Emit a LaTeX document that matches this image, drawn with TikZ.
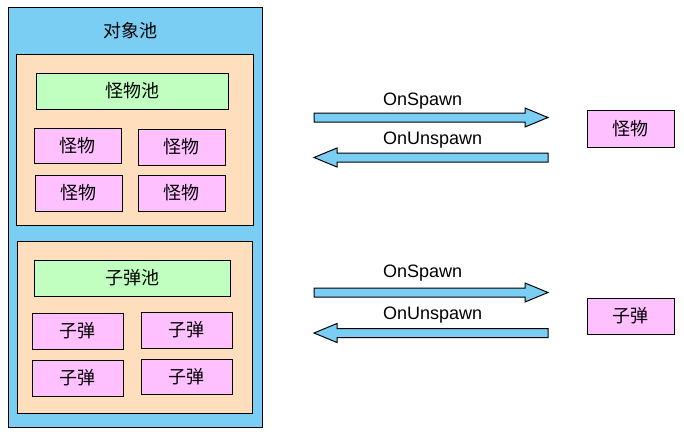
\documentclass[tikz,border=0pt]{standalone}
\usepackage{fontspec}
\setmainfont{Liberation Sans}
\newfontfamily\cjk{Noto Sans CJK SC}
\usepackage{tikz}
\definecolor{poolblue}{RGB}{122,206,244}
\definecolor{peach}{RGB}{255,222,190}
\definecolor{mint}{RGB}{192,255,192}
\definecolor{lilac}{RGB}{255,192,255}
% block arrow: #1 tail, #2 tip, #3 direction (1 right, -1 left)
\newcommand{\fatarrow}[3]{%
    \draw[flowarrow] (#1) ++(0,-4.5) -- ++({#3*211},0) -- ++(0,-5) -- (#2)
        -- ++({-#3*23},9.5) -- ++(0,-5) -- ++({-#3*211},0) -- cycle;}

\begin{document}
\begin{tikzpicture}[x=1pt,y=-1pt,
        boxbase/.style={draw=black,line width=1pt,inner sep=0pt,
                        font=\cjk\fontsize{18}{18}\selectfont},
        poolbox/.style={boxbase,fill=poolblue},
        groupbox/.style={boxbase,fill=peach},
        listbox/.style={boxbase,fill=mint,minimum height=36pt},
        itembox/.style={boxbase,fill=lilac,minimum width=87pt,minimum height=36pt},
        flowarrow/.style={draw=black,line width=1pt,fill=poolblue,line join=miter},
        flowlabel/.style={anchor=west,inner sep=0pt,font=\fontsize{18}{18}\selectfont}]
    \fill[white] (0,0) rectangle (684,436);
    \useasboundingbox (0,0) rectangle (684,436);

    % pools
    \node[poolbox,minimum width=254pt,minimum height=419pt] (pool) at (135,217.5) {};
    \node[boxbase,draw=none] (title) at (130,31) {对象池};

    \node[groupbox,minimum width=237pt,minimum height=171pt] (mgroup) at (134.5,139.5) {};
    \node[listbox,minimum width=192pt] (mlist) at (132,91) {怪物池};
    \node[itembox,minimum height=35pt] (m1) at (77.5,145.5) {怪物};
    \node[itembox] (m2) at (181.5,147) {怪物};
    \node[itembox] (m3) at (78.5,193) {怪物};
    \node[itembox] (m4) at (181.5,193) {怪物};

    \node[groupbox,minimum width=235pt,minimum height=172pt] (bgroup) at (134.5,327) {};
    \node[listbox,minimum width=196pt] (blist) at (132,278) {子弹池};
    \node[itembox,minimum width=91pt] (b1) at (77.5,331) {子弹};
    \node[itembox,minimum width=91pt] (b2) at (186.5,330) {子弹};
    \node[itembox,minimum width=91pt] (b3) at (77.5,378) {子弹};
    \node[itembox,minimum width=91pt,minimum height=35pt] (b4) at (186.5,376.5) {子弹};

    % spawned objects
    \node[itembox,minimum height=37pt] (monster) at (630.5,128.5) {怪物};
    \node[itembox] (bullet) at (630.5,316) {子弹};

    % spawn / unspawn
    \coordinate (mspawn-tail) at (314,117.5);
    \coordinate (mspawn-tip) at (548,117.5);
    \coordinate (munspawn-tail) at (548,157.5);
    \coordinate (munspawn-tip) at (314,157.5);
    \fatarrow{mspawn-tail}{mspawn-tip}{1}
    \fatarrow{munspawn-tail}{munspawn-tip}{-1}
    \node[flowlabel] (mspawnlabel) at (383,101) {OnSpawn};
    \node[flowlabel] (munspawnlabel) at (383,140) {OnUnspawn};

    \coordinate (bspawn-tail) at (314,292.5);
    \coordinate (bspawn-tip) at (548,292.5);
    \coordinate (bunspawn-tail) at (548,333);
    \coordinate (bunspawn-tip) at (314,333);
    \fatarrow{bspawn-tail}{bspawn-tip}{1}
    \fatarrow{bunspawn-tail}{bunspawn-tip}{-1}
    \node[flowlabel] (bspawnlabel) at (383,273) {OnSpawn};
    \node[flowlabel] (bunspawnlabel) at (383,315) {OnUnspawn};
\end{tikzpicture}
\end{document}
